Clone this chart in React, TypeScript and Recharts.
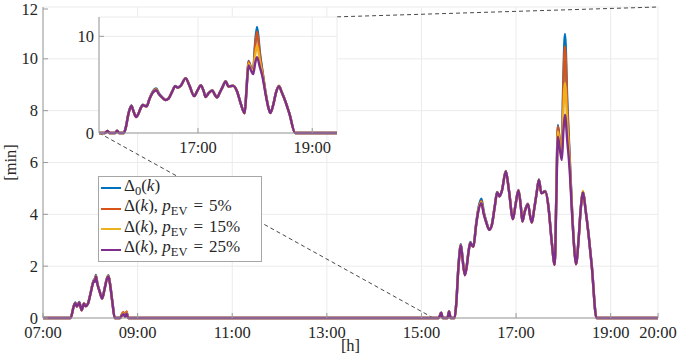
import React from "react"
import { CartesianGrid, Line, LineChart, ReferenceLine, XAxis, YAxis } from "recharts"

// time in minutes after midnight
const minutes = [
    420, 455, 459, 461, 463, 466, 469, 472, 474, 477, 480, 483, 485, 486, 487, 489, 492, 495, 498, 501, 503, 505, 508, 511,
    518, 520, 522, 524, 526, 528,
    922, 925, 927, 933, 935, 937, 942, 944, 947, 950, 952, 955, 957, 960, 962, 964, 966, 969, 972, 976, 979, 982, 986, 989,
    993, 996, 999, 1002, 1007, 1011, 1016, 1019, 1023, 1026, 1028, 1031, 1035, 1038, 1040, 1043, 1046, 1049, 1052, 1057,
    1061, 1065, 1069, 1071, 1073, 1076, 1078, 1080, 1082, 1085, 1088, 1091, 1094, 1096, 1099, 1102, 1105, 1108, 1112, 1116,
    1122, 1200,
]

const delta0 = [
    0, 0, 0.47, 0.6, 0.45, 0.62, 0.31, 0.56, 0.46, 0.56, 0.92, 1.33, 1.5, 1.45, 1.66, 1.33, 1.02, 0.76, 1.12, 1.53, 1.65, 1.33, 0.62, 0,
    0, 0.13, 0.2, 0.06, 0.22, 0,
    0, 0.2, 0, 0, 0.25, 0, 0, 0.52, 2.05, 2.85, 2.35, 1.68, 1.93, 2.65, 2.93, 2.83, 2.78, 3.55, 4.2, 4.6, 4.1, 3.75, 3.42, 3.57,
    4.33, 4.86, 4.71, 4.92, 5.67, 4.92, 3.83, 4.32, 4.94, 4.32, 3.74, 4.12, 4.41, 3.92, 3.7, 4.22, 4.82, 5.35, 4.83, 4.9,
    4.32, 3.02, 2.07, 4.7, 7.45, 6.7, 6.6, 9.3, 10.96, 8.3, 6.2, 4.2, 2.62, 2.08, 2.92, 4.22, 4.86, 4.22, 3.22, 2.02,
    0, 0,
]

const delta5 = [
    0, 0, 0.46, 0.58, 0.45, 0.6, 0.3, 0.56, 0.46, 0.56, 0.91, 1.32, 1.48, 1.43, 1.63, 1.32, 1.01, 0.76, 1.11, 1.52, 1.63, 1.32, 0.61, 0,
    0, 0.15, 0.22, 0.07, 0.25, 0,
    0, 0.2, 0, 0, 0.25, 0, 0, 0.51, 2.02, 2.82, 2.32, 1.66, 1.91, 2.62, 2.91, 2.81, 2.76, 3.52, 4.15, 4.52, 4.05, 3.72, 3.41, 3.56,
    4.31, 4.85, 4.7, 4.91, 5.66, 4.91, 3.82, 4.31, 4.93, 4.31, 3.73, 4.11, 4.4, 3.91, 3.69, 4.21, 4.81, 5.34, 4.82, 4.89,
    4.31, 3.01, 2.06, 4.65, 7.4, 6.65, 6.5, 8.9, 10.48, 8.0, 6.1, 4.15, 2.61, 2.08, 2.91, 4.21, 4.87, 4.21, 3.21, 2.01,
    0, 0,
]

const delta15 = [
    0, 0, 0.45, 0.57, 0.44, 0.59, 0.3, 0.55, 0.45, 0.55, 0.9, 1.31, 1.46, 1.41, 1.62, 1.31, 1.0, 0.75, 1.1, 1.51, 1.62, 1.31, 0.6, 0,
    0, 0.11, 0.18, 0.05, 0.2, 0,
    0, 0.2, 0, 0, 0.25, 0, 0, 0.5, 2.0, 2.8, 2.3, 1.65, 1.9, 2.6, 2.9, 2.8, 2.75, 3.5, 4.12, 4.47, 4.02, 3.7, 3.4, 3.55,
    4.3, 4.84, 4.69, 4.9, 5.65, 4.9, 3.81, 4.3, 4.92, 4.3, 3.72, 4.1, 4.39, 3.9, 3.68, 4.2, 4.8, 5.33, 4.81, 4.88,
    4.3, 3.0, 2.05, 4.58, 7.2, 6.55, 6.3, 8.0, 9.06, 7.4, 5.9, 4.1, 2.6, 2.07, 2.9, 4.2, 4.9, 4.2, 3.2, 2.0,
    0, 0,
]

const delta25 = [
    0, 0, 0.45, 0.57, 0.44, 0.59, 0.3, 0.55, 0.45, 0.55, 0.9, 1.3, 1.45, 1.4, 1.6, 1.3, 1.0, 0.75, 1.1, 1.5, 1.6, 1.3, 0.6, 0,
    0, 0.1, 0.15, 0.05, 0.18, 0,
    0, 0.2, 0, 0, 0.25, 0, 0, 0.5, 2.0, 2.8, 2.3, 1.65, 1.9, 2.6, 2.9, 2.8, 2.75, 3.5, 4.1, 4.43, 4.0, 3.7, 3.4, 3.55,
    4.3, 4.84, 4.69, 4.9, 5.65, 4.9, 3.81, 4.3, 4.92, 4.3, 3.72, 4.1, 4.39, 3.9, 3.68, 4.2, 4.8, 5.33, 4.81, 4.88,
    4.3, 3.0, 2.05, 4.5, 7.0, 6.4, 6.1, 7.2, 7.84, 6.8, 5.7, 4.0, 2.6, 2.07, 2.9, 4.2, 4.84, 4.2, 3.2, 2.0,
    0, 0,
]

const xTicks = [420, 540, 660, 780, 900, 1020, 1140, 1200]
const yTicks = [0, 2, 4, 6, 8, 10, 12]
const insetXTicks = [1020, 1140]
const insetYTicks = [0, 10]
const insetDomain = [916, 1166]

// dashed lines joining the inset box to the zoomed region (main chart data coords)
const zoomLinks = [
    [{ x: 491, y: 7.14 }, { x: 915, y: 0 }],
    [{ x: 793, y: 11.62 }, { x: 1200, y: 12 }],
]

const series = [
    { key: "d0", color: "#0072BD", values: delta0, label: "d0" },
    { key: "d5", color: "#D95319", values: delta5, label: "5%" },
    { key: "d15", color: "#EDB120", values: delta15, label: "15%" },
    { key: "d25", color: "#7E2F8E", values: delta25, label: "25%" },
]

const data = minutes.map((m, i) => {
    const row: { [key: string]: number } = { m }
    series.forEach((s) => (row[s.key] = s.values[i]))
    return row
})

const AXIS = "#9a9a9a"
const TEXT = "#262626"
const FONT = "'Liberation Serif', 'DejaVu Serif', serif"

const fmtTime = (v: number) => `${String(Math.floor(v / 60)).padStart(2, "0")}:00`

function BottomTick({ x, y, payload }: any) {
    return (
        <g>
            <line x1={x} x2={x} y1={y} y2={y - 5} stroke={AXIS} />
            <text x={x} y={y + 20} textAnchor="middle" fill={TEXT} fontSize={16.5} fontFamily={FONT}>
                {fmtTime(payload.value)}
            </text>
        </g>
    )
}

function LeftTick({ x, y, payload }: any) {
    return (
        <g>
            <line x1={x} x2={x + 5} y1={y} y2={y} stroke={AXIS} />
            <text x={x - 5} y={y + 5.5} textAnchor="end" fill={TEXT} fontSize={16.5} fontFamily={FONT}>
                {payload.value}
            </text>
        </g>
    )
}

function TopTick({ x, y }: any) {
    return <line x1={x} x2={x} y1={y} y2={y + 5} stroke={AXIS} />
}

function RightTick({ x, y }: any) {
    return <line x1={x} x2={x - 5} y1={y} y2={y} stroke={AXIS} />
}

function Sub({ children }: { children: React.ReactNode }) {
    return <span style={{ fontSize: 12.5, verticalAlign: -4 }}>{children}</span>
}

function LegendText({ label }: { label: string }) {
    if (label === "d0") {
        return (
            <span>
                Δ<Sub>0</Sub>(<i>k</i>)
            </span>
        )
    }
    return (
        <span>
            Δ(<i>k</i>),&nbsp;<i>p</i>
            <Sub>EV</Sub>
            <span style={{ margin: "0 6px" }}>=</span>
            {label}
        </span>
    )
}

function Lines() {
    return series.map((s) => (
        <Line
            key={s.key}
            type="monotone"
            dataKey={s.key}
            stroke={s.color}
            strokeWidth={2.4}
            dot={false}
            isAnimationActive={false}
        />
    ))
}

export default function App() {
    return (
        <div style={{ position: "absolute", left: 0, top: 0, width: 677, height: 364, background: "#fff", fontFamily: FONT, color: TEXT }}>
            <LineChart width={677} height={364} data={data} margin={{ top: 7, right: 19, left: 8, bottom: 6 }}>
                <CartesianGrid stroke="#ebebeb" />
                <XAxis
                    dataKey="m"
                    type="number"
                    domain={[420, 1200]}
                    ticks={xTicks}
                    height={40}
                    stroke={AXIS}
                    tickSize={0}
                    tickMargin={0}
                    tick={<BottomTick />}
                    label={{ value: "[h]", position: "insideBottom", offset: 7, fill: TEXT, fontSize: 16.5, fontFamily: FONT }}
                />
                <XAxis xAxisId="top" dataKey="m" type="number" orientation="top" domain={[420, 1200]} ticks={xTicks} height={0} stroke={AXIS} tickSize={0} tickMargin={0} tick={<TopTick />} />
                <YAxis
                    domain={[0, 12]}
                    ticks={yTicks}
                    width={35}
                    stroke={AXIS}
                    tickSize={0}
                    tickMargin={0}
                    tick={<LeftTick />}
                    label={{ value: "[min]", angle: -90, position: "insideLeft", offset: 2, fill: TEXT, fontSize: 16.5, fontFamily: FONT, style: { textAnchor: "middle" } }}
                />
                <YAxis yAxisId="right" orientation="right" domain={[0, 12]} ticks={yTicks} width={0} stroke={AXIS} tickSize={0} tickMargin={0} tick={<RightTick />} />
                {zoomLinks.map((seg, i) => (
                    <ReferenceLine key={i} segment={seg} stroke="#333" strokeWidth={0.9} strokeDasharray="4 3" ifOverflow="visible" />
                ))}
                {Lines()}
            </LineChart>

            <div style={{ position: "absolute", left: 60, top: 5 }}>
                <LineChart width={287} height={157} data={data} margin={{ top: 12, right: 10, left: 9, bottom: 4 }}>
                    <CartesianGrid stroke="#ebebeb" fill="#fff" fillOpacity={1} />
                    <XAxis
                        dataKey="m"
                        type="number"
                        domain={insetDomain}
                        allowDataOverflow
                        ticks={insetXTicks}
                        height={25}
                        stroke={AXIS}
                        tickSize={0}
                        tickMargin={0}
                        tick={<BottomTick />}
                    />
                    <XAxis xAxisId="top" dataKey="m" type="number" orientation="top" domain={insetDomain} allowDataOverflow ticks={insetXTicks} height={0} stroke={AXIS} tickSize={0} tickMargin={0} tick={<TopTick />} />
                    <YAxis domain={[0, 12]} ticks={insetYTicks} width={30} stroke={AXIS} tickSize={0} tickMargin={0} tick={<LeftTick />} />
                    <YAxis yAxisId="right" orientation="right" domain={[0, 12]} ticks={insetYTicks} width={0} stroke={AXIS} tickSize={0} tickMargin={0} tick={<RightTick />} />
                    {Lines()}
                </LineChart>
            </div>

            <div
                style={{
                    position: "absolute",
                    left: 98,
                    top: 176,
                    width: 162,
                    height: 83,
                    border: "1px solid #a6a6a6",
                    background: "#fff",
                    fontSize: 17,
                    lineHeight: "20.5px",
                    paddingTop: 1,
                    boxSizing: "content-box",
                    fontFamily: FONT,
                }}
            >
                {series.map((s) => (
                    <div key={s.key} style={{ display: "flex", alignItems: "center", height: 20.5, whiteSpace: "nowrap" }}>
                        <span style={{ display: "inline-block", width: 20, height: 2.4, background: s.color, marginLeft: 2, marginRight: 3 }} />
                        <LegendText label={s.label} />
                    </div>
                ))}
            </div>
        </div>
    )
}
